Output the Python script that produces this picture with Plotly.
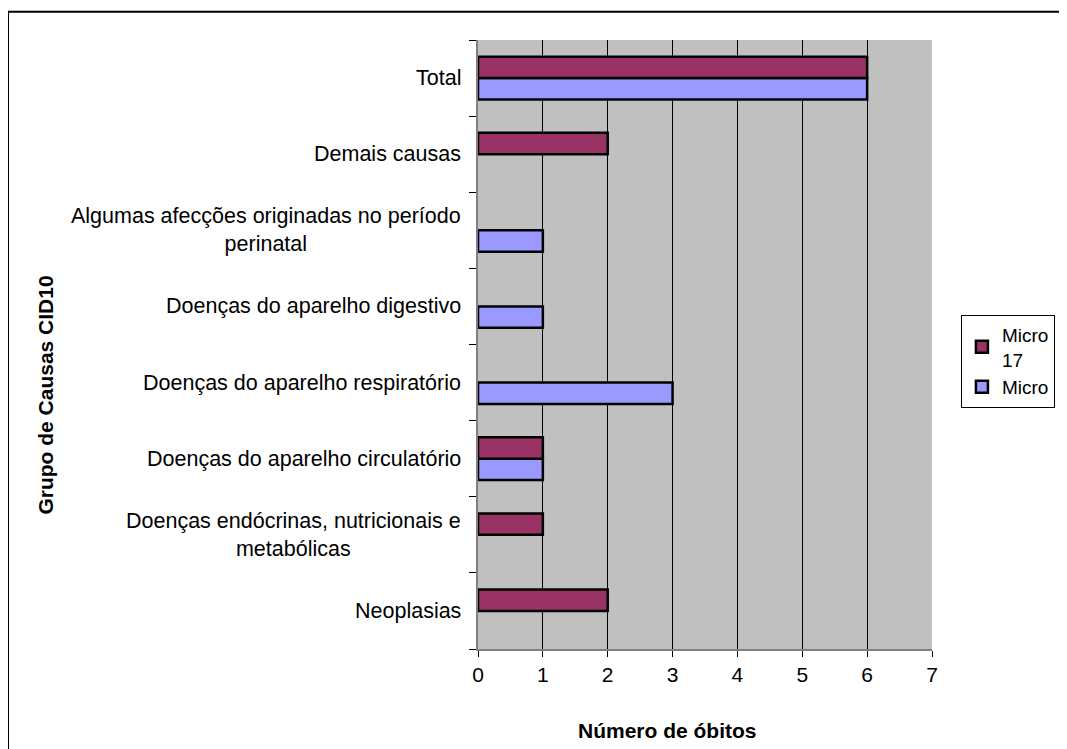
import plotly.graph_objects as go

categories = [
    "Neoplasias",
    "Doenças endócrinas, nutricionais e<br>metabólicas",
    "Doenças do aparelho circulatório",
    "Doenças do aparelho respiratório",
    "Doenças do aparelho digestivo",
    "Algumas afecções originadas no período<br>perinatal",
    "Demais causas",
    "Total",
]
micro17 = [2, 1, 1, None, None, None, 2, 6]
micro = [None, None, 1, 3, 1, 1, None, 6]
x_ticks = [0, 1, 2, 3, 4, 5, 6, 7]

FONT = "Liberation Sans, Arial, sans-serif"

fig = go.Figure()
fig.add_trace(go.Bar(
    y=categories, x=micro, orientation="h", name="Micro",
    marker=dict(color="#9999FF", line=dict(color="black", width=2.5)),
))
fig.add_trace(go.Bar(
    y=categories, x=micro17, orientation="h", name="Micro<br>17",
    marker=dict(color="#993366", line=dict(color="black", width=2.5)),
))

annotations = []
for c in categories:
    annotations.append(dict(
        x=0, xref="paper", y=c, yref="y", text=c, showarrow=False,
        xanchor="right", yanchor="middle", align="center", xshift=-15,
        yshift=0,
        font=dict(family=FONT, size=21.5, color="black"),
    ))
annotations.append(dict(
    x=(45 - 478) / 455, xref="paper", y=(641 - 390) / 601, yref="paper",
    text="<b>Grupo de Causas CID10</b>", textangle=-90, showarrow=False,
    xanchor="center", yanchor="middle",
    font=dict(family=FONT, size=21, color="black"),
))
annotations.append(dict(
    x=(668 - 478) / 455, xref="paper", y=(641 - 721) / 601, yref="paper",
    text="<b>Número de óbitos</b>", showarrow=False,
    xanchor="center", yanchor="middle",
    font=dict(family=FONT, size=21, color="black"),
))

fig.update_layout(
    width=1059, height=741,
    margin=dict(l=470, r=126, t=32, b=100),
    paper_bgcolor="white", plot_bgcolor="#C0C0C0",
    barmode="group", bargap=0.44, bargroupgap=0,
    font=dict(family=FONT, size=21, color="black"),
    xaxis=dict(
        range=[0, 7], tickvals=x_ticks, ticks="outside", ticklen=6,
        tickcolor="black", showgrid=True, gridcolor="black", gridwidth=1,
        showline=True, linecolor="#808080", linewidth=2, zeroline=False,
        tickfont=dict(family=FONT, size=21), ticklabelstandoff=0,
    ),
    yaxis=dict(
        type="category", categoryorder="array", categoryarray=categories,
        showticklabels=False, ticks="outside", ticklen=7, tickcolor="black",
        tickson="boundaries", showgrid=False, showline=True,
        linecolor="#808080", linewidth=2, zeroline=False,
    ),
    legend=dict(
        x=(962 - 478) / 455, y=(641 - 311) / 601, xanchor="left", yanchor="top",
        traceorder="reversed", bordercolor="black", borderwidth=1,
        bgcolor="white", font=dict(family=FONT, size=19, color="black"),
        itemwidth=30, tracegroupgap=0,
    ),
    annotations=annotations,
    shapes=[dict(
        type="rect", xref="paper", yref="paper",
        x0=(7 - 478) / 455, x1=(1075 - 478) / 455,
        y0=(641 - 760) / 601, y1=(641 - 12) / 601,
        line=dict(color="black", width=2), fillcolor="rgba(0,0,0,0)", layer="below",
    )],
)

fig.write_html("out.html")
